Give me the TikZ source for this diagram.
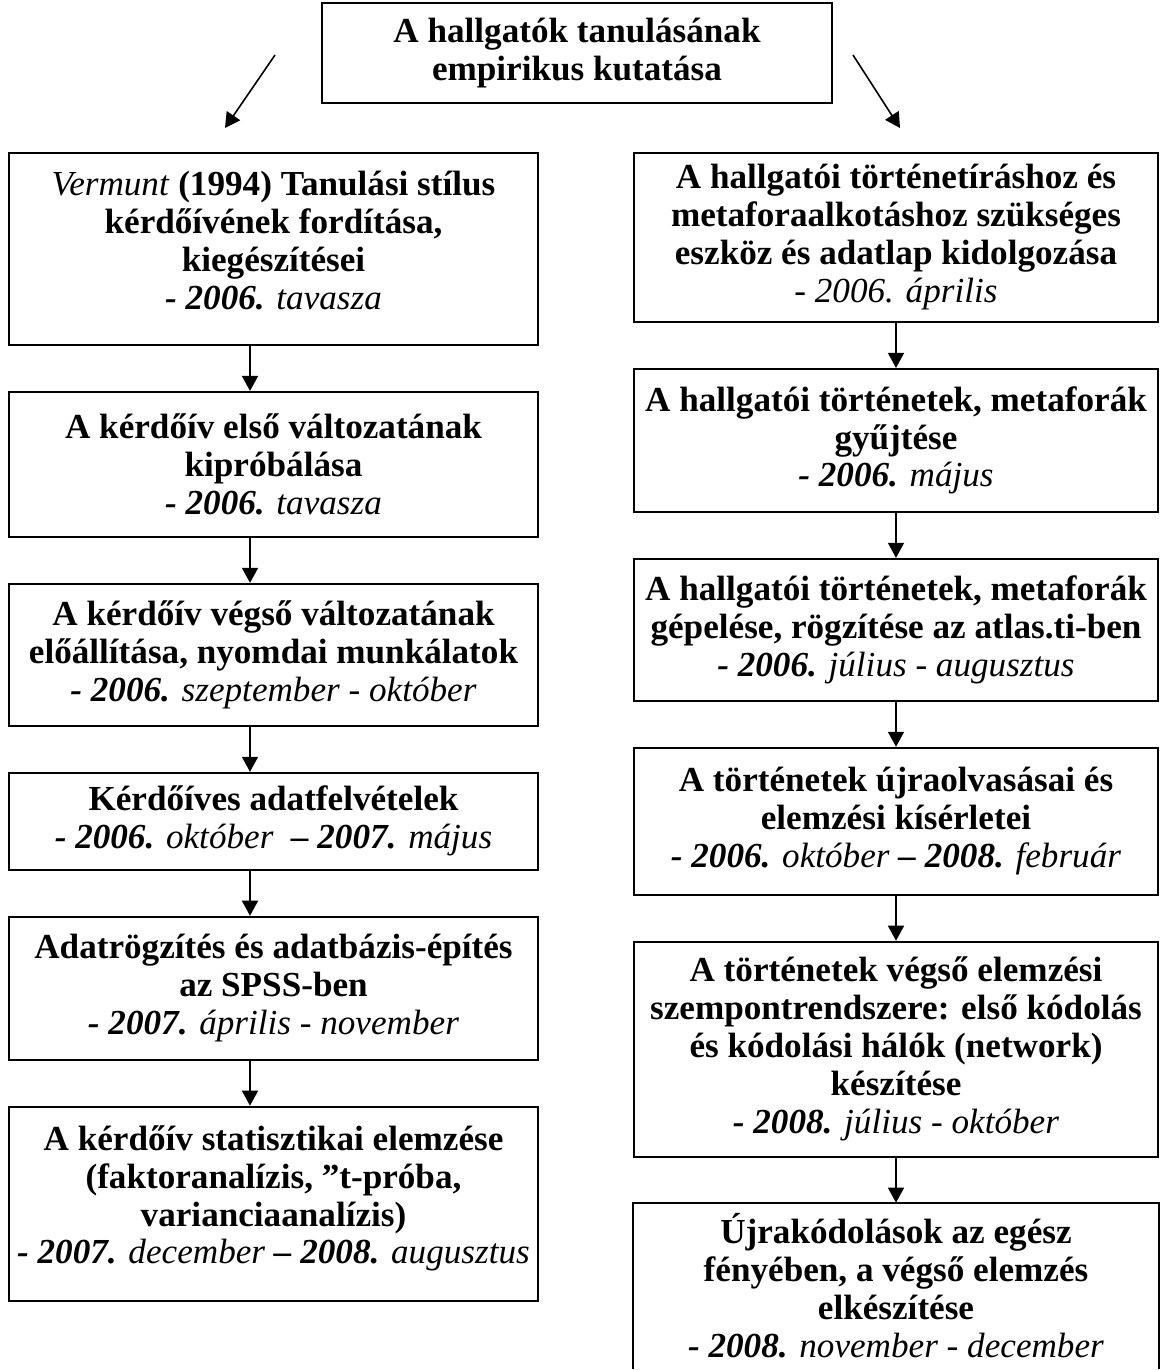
\documentclass[tikz,border=0pt]{standalone}
\usepackage{fontspec}
\setmainfont{Liberation Serif}
\usetikzlibrary{arrows.meta, positioning}
\newcommand{\honap}[1]{\textit{\mdseries #1}}
\tikzset{
  stage/.style={
    rectangle, draw=black, line width=1.1pt, fill=white,
    align=center, inner sep=0pt,
    font=\fontsize{20}{21.6}\selectfont\bfseries
  },
  leftstage/.style={stage, minimum width=10.58cm, minimum height=#1},
  rightstage/.style={stage, minimum width=10.48cm, minimum height=#1},
  arrow/.style={-{Triangle[length=0.3cm, width=0.32cm]}, line width=0.9pt, draw=black}
}

\begin{document}
\begin{tikzpicture}[node distance=0.9cm]
  \useasboundingbox (0,0) rectangle (23.2,-27.4);

  % title
  \node[stage, minimum width=10.2cm, minimum height=2cm] (kutatas) at (11.54,-1.06)
    {A hallgatók tanulásának\\empirikus kutatása};
  \coordinate (bal0) at (5.5,-1.1);
  \coordinate (bal1) at (4.5,-2.56);
  \coordinate (jobb0) at (17.06,-1.1);
  \coordinate (jobb1) at (18.0,-2.56);
  \draw[arrow] (bal0) -- (bal1);
  \draw[arrow] (jobb0) -- (jobb1);

  % left column: questionnaire
  \node[leftstage=3.84cm, anchor=north] (kerdoiv) at (5.47,-3.04)
    {\textit{\mdseries Vermunt} (1994) Tanulási stílus\\kérdőívének fordítása,\\kiegészítései\\
     \textit{- 2006.} \honap{tavasza}\\[-0.4cm]};
  \node[leftstage=2.9cm, below=of kerdoiv] (kiprobalas)
    {A kérdőív első változatának\\kipróbálása\\\textit{- 2006.} \honap{tavasza}};
  \node[leftstage=2.84cm, below=of kiprobalas] (nyomda)
    {A kérdőív végső változatának\\előállítása, nyomdai munkálatok\\
     \textit{- 2006.} \honap{szeptember - október}};
  \node[leftstage=1.94cm, below=of nyomda] (felvetel)
    {Kérdőíves adatfelvételek\\\textit{- 2006.} \honap{október} ~\textit{– 2007.} \honap{május}};
  \node[leftstage=2.86cm, below=of felvetel] (spss)
    {Adatrögzítés és adatbázis-építés\\az SPSS-ben\\\textit{- 2007.} \honap{április - november}};
  \node[leftstage=3.88cm, below=of spss] (statisztika)
    {A kérdőív statisztikai elemzése\\(faktoranalízis, ”t-próba,\\varianciaanalízis)\\
     \textit{- 2007.} \honap{december} \textit{– 2008.} \honap{augusztus}\\[-0.4cm]};

  \coordinate (balx) at (5.0,0);
  \draw[arrow] (kerdoiv.south -| balx) -- (kiprobalas.north -| balx);
  \draw[arrow] (kiprobalas.south -| balx) -- (nyomda.north -| balx);
  \draw[arrow] (nyomda.south -| balx) -- (felvetel.north -| balx);
  \draw[arrow] (felvetel.south -| balx) -- (spss.north -| balx);
  \draw[arrow] (spss.south -| balx) -- (statisztika.north -| balx);

  % right column: stories and metaphors
  \node[rightstage=3.38cm, anchor=north] (eszkoz) at (17.92,-3.04)
    {A hallgatói történetíráshoz és\\metaforaalkotáshoz szükséges\\eszköz és adatlap kidolgozása\\
     \honap{- 2006. április}};
  \node[rightstage=2.86cm, below=of eszkoz] (gyujtes)
    {A hallgatói történetek, metaforák\\gyűjtése\\\textit{- 2006.} \honap{május}};
  \node[rightstage=2.84cm, below=of gyujtes] (gepeles)
    {A hallgatói történetek, metaforák\\gépelése, rögzítése az atlas.ti-ben\\
     \textit{- 2006.} \honap{július - augusztus}};
  \node[rightstage=2.94cm, below=of gepeles] (ujraolvasas)
    {A történetek újraolvasásai és\\elemzési kísérletei\\
     \textit{- 2006.} \honap{október} \textit{– 2008.} \honap{február}};
  \node[rightstage=4.3cm, below=of ujraolvasas] (kodolas)
    {A történetek végső elemzési\\szempontrendszere: első kódolás\\és kódolási hálók (network)\\készítése\\
     \textit{- 2008.} \honap{július - október}};
  % last box runs off the page: no bottom edge
  \node[rightstage=1cm, draw=none, inner ysep=0.2cm, below=of kodolas] (vegso)
    {Újrakódolások az egész\\fényében, a végső elemzés\\elkészítése\\
     \textit{- 2008.} \honap{november - december}};
  \draw[line width=1.1pt] (vegso.south west) -- (vegso.north west)
    -- (vegso.north east) -- (vegso.south east);

  \draw[arrow] (eszkoz) -- (gyujtes);
  \draw[arrow] (gyujtes) -- (gepeles);
  \draw[arrow] (gepeles) -- (ujraolvasas);
  \draw[arrow] (ujraolvasas) -- (kodolas);
  \draw[arrow] (kodolas) -- (vegso);
\end{tikzpicture}
\end{document}
